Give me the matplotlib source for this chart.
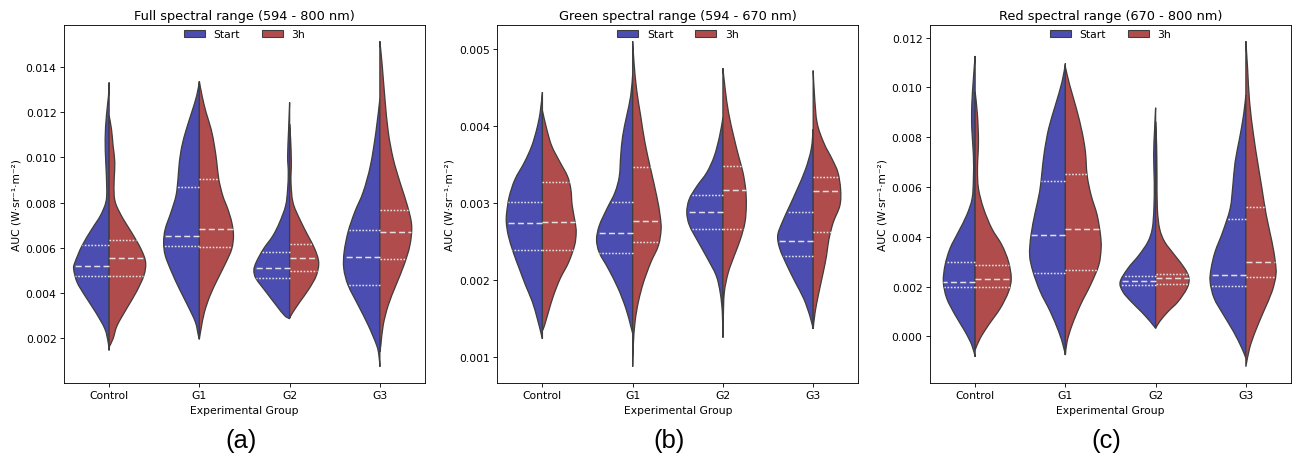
import numpy as np
import matplotlib
matplotlib.use("Agg")
import matplotlib.pyplot as plt
from matplotlib.path import Path
from matplotlib.patches import PathPatch, Patch
from matplotlib.ticker import MultipleLocator, FormatStrFormatter

# Groups and hue levels.
groups = ["Control", "G1", "G2", "G3"]
hues = ["Start", "3h"]
titles = ["Full spectral range (594 - 800 nm)",
          "Green spectral range (594 - 670 nm)",
          "Red spectral range (670 - 800 nm)"]
panel_tags = ["(a)", "(b)", "(c)"]

# Violin outlines: AUC values (y) and half widths (w, in category units).
# Full spectral range.
full_start_y = [
    [0.01331, 0.01272, 0.01184, 0.01081, 0.00978, 0.0086, 0.00801, 0.00743, 0.00684, 0.0061, 0.00537, 0.00507, 0.00449, 0.0039, 0.00316, 0.00243, 0.00184, 0.00147],
    [0.01335, 0.01272, 0.01199, 0.01125, 0.01051, 0.00978, 0.00904, 0.00831, 0.00757, 0.00684, 0.00625, 0.00566, 0.00493, 0.00419, 0.00346, 0.00272, 0.00213, 0.00196],
    [0.01243, 0.01125, 0.01007, 0.00934, 0.0086, 0.00787, 0.00713, 0.00654, 0.00596, 0.00537, 0.005, 0.00463, 0.00404, 0.00346, 0.00301, 0.00287],
    [0.01259, 0.01112, 0.00965, 0.00847, 0.00759, 0.00671, 0.00582, 0.00509, 0.00435, 0.00347, 0.00259, 0.00171, 0.00126, 0.00075],
]
full_start_w = [
    [0, 0.007, 0.03, 0.044, 0.037, 0.026, 0.037, 0.096, 0.19, 0.30, 0.378, 0.393, 0.356, 0.27, 0.15, 0.048, 0.011, 0],
    [0, 0.030, 0.085, 0.144, 0.193, 0.222, 0.237, 0.259, 0.315, 0.378, 0.396, 0.378, 0.307, 0.222, 0.130, 0.044, 0.011, 0],
    [0, 0.011, 0.022, 0.015, 0.022, 0.044, 0.111, 0.185, 0.289, 0.37, 0.396, 0.37, 0.259, 0.148, 0.056, 0],
    [0, 0.044, 0.104, 0.185, 0.278, 0.352, 0.396, 0.4, 0.352, 0.241, 0.130, 0.037, 0.011, 0],
]
full_3h_y = [
    [0.01184, 0.01125, 0.01051, 0.00978, 0.00904, 0.00831, 0.00787, 0.00728, 0.00669, 0.00596, 0.00537, 0.00478, 0.00404, 0.00331, 0.00257, 0.00199, 0.00162],
    [0.01335, 0.01272, 0.01199, 0.01125, 0.01051, 0.00978, 0.00904, 0.00831, 0.00772, 0.00713, 0.00654, 0.00596, 0.00537, 0.00463, 0.0039, 0.00316, 0.00243, 0.00199],
    [0.01147, 0.01081, 0.00978, 0.0089, 0.00801, 0.00728, 0.00654, 0.00596, 0.00537, 0.00478, 0.00419, 0.0036, 0.00316, 0.0029],
    [0.01513, 0.01406, 0.01259, 0.01112, 0.00994, 0.00891, 0.00788, 0.007, 0.00612, 0.00524, 0.00435, 0.00347, 0.00259, 0.00171, 0.00141],
]
full_3h_w = [
    [0, 0.026, 0.044, 0.063, 0.056, 0.056, 0.081, 0.156, 0.248, 0.352, 0.404, 0.385, 0.30, 0.193, 0.089, 0.044, 0],
    [0, 0.030, 0.074, 0.13, 0.167, 0.193, 0.215, 0.259, 0.315, 0.359, 0.378, 0.359, 0.296, 0.204, 0.119, 0.056, 0.019, 0],
    [0, 0.011, 0.019, 0.015, 0.037, 0.111, 0.204, 0.278, 0.322, 0.296, 0.215, 0.111, 0.037, 0],
    [0, 0.026, 0.056, 0.093, 0.148, 0.222, 0.304, 0.352, 0.333, 0.267, 0.178, 0.093, 0.037, 0.011, 0],
]
# Quartiles [Q1, median, Q3].
full_start_q = [[0.00475, 0.00522, 0.00613], [0.00609, 0.00653, 0.00871], [0.00468, 0.00513, 0.00584], [0.00438, 0.0056, 0.0068]]
full_3h_q = [[0.00474, 0.00556, 0.00635], [0.00604, 0.00684, 0.00906], [0.00496, 0.00557, 0.00618], [0.00551, 0.00669, 0.00769]]

# Green spectral range.
green_start_y = [
    [0.00444, 0.00417, 0.00396, 0.00374, 0.00353, 0.00331, 0.00309, 0.00288, 0.00275, 0.00258, 0.00236, 0.00215, 0.00193, 0.00172, 0.0015, 0.00133, 0.00124],
    [0.00467, 0.00439, 0.00413, 0.00387, 0.00361, 0.00335, 0.00314, 0.00292, 0.00271, 0.00253, 0.00236, 0.00215, 0.00189, 0.00163, 0.00141, 0.00131],
    [0.00411, 0.00387, 0.00361, 0.0034, 0.00322, 0.00305, 0.00288, 0.00271, 0.00249, 0.00228, 0.00206, 0.00184, 0.00159, 0.00126],
    [0.00396, 0.0037, 0.00344, 0.00318, 0.00297, 0.00275, 0.00258, 0.00241, 0.00219, 0.00197, 0.00176, 0.00154, 0.00137],
]
green_start_w = [
    [0, 0.026, 0.063, 0.119, 0.2, 0.304, 0.367, 0.396, 0.4, 0.378, 0.322, 0.256, 0.185, 0.111, 0.056, 0.019, 0],
    [0, 0.022, 0.067, 0.111, 0.133, 0.148, 0.196, 0.289, 0.37, 0.4, 0.37, 0.27, 0.159, 0.074, 0.022, 0],
    [0, 0.037, 0.096, 0.178, 0.289, 0.374, 0.4, 0.37, 0.27, 0.17, 0.074, 0.03, 0.007, 0],
    [0, 0.022, 0.085, 0.178, 0.259, 0.344, 0.393, 0.37, 0.289, 0.196, 0.104, 0.037, 0],
]
green_3h_y = [
    [0.0042, 0.00396, 0.00374, 0.00353, 0.00335, 0.00318, 0.00297, 0.00275, 0.00262, 0.00245, 0.00223, 0.00202, 0.0018, 0.00159, 0.00141, 0.00135],
    [0.0051, 0.00482, 0.00447, 0.00413, 0.00378, 0.00344, 0.00309, 0.00284, 0.00266, 0.00245, 0.00223, 0.00197, 0.00172, 0.00146, 0.00116, 0.00088],
    [0.00475, 0.00447, 0.00417, 0.00387, 0.00361, 0.0034, 0.00318, 0.00297, 0.00275, 0.00253, 0.00232, 0.0021, 0.00184, 0.0015, 0.00126],
    [0.00472, 0.00439, 0.00404, 0.00378, 0.00357, 0.0034, 0.00318, 0.00297, 0.00275, 0.00253, 0.00232, 0.0021, 0.00184, 0.00159, 0.00137],
]
green_3h_w = [
    [0, 0.048, 0.104, 0.196, 0.278, 0.315, 0.33, 0.363, 0.374, 0.356, 0.289, 0.196, 0.122, 0.067, 0.022, 0],
    [0, 0.015, 0.044, 0.089, 0.137, 0.2, 0.267, 0.304, 0.315, 0.285, 0.2, 0.119, 0.063, 0.026, 0.007, 0],
    [0, 0.026, 0.063, 0.119, 0.174, 0.222, 0.252, 0.259, 0.244, 0.193, 0.126, 0.059, 0.015, 0.004, 0],
    [0, 0.015, 0.044, 0.119, 0.211, 0.274, 0.304, 0.296, 0.222, 0.174, 0.148, 0.111, 0.063, 0.022, 0],
]
green_start_q = [[0.0024, 0.00275, 0.00302], [0.00236, 0.00262, 0.00302], [0.00266, 0.00288, 0.00311], [0.00231, 0.00251, 0.00288]]
green_3h_q = [[0.0024, 0.00276, 0.00327], [0.0025, 0.00277, 0.00347], [0.00266, 0.00317, 0.00348], [0.00263, 0.00316, 0.00334]]

# Red spectral range.
red_start_y = [
    [0.01126, 0.01035, 0.00928, 0.00835, 0.00728, 0.00634, 0.00554, 0.00487, 0.0042, 0.00353, 0.00286, 0.00219, 0.00153, 0.00086, 0.00019, -0.00035, -0.00082],
    [0.01096, 0.01022, 0.00928, 0.00835, 0.00741, 0.00661, 0.00581, 0.005, 0.00407, 0.00326, 0.0026, 0.00179, 0.00099, 0.00019, -0.00035, -0.00075],
    [0.00918, 0.00835, 0.00728, 0.00621, 0.00514, 0.00433, 0.0038, 0.00326, 0.00273, 0.00219, 0.00179, 0.00139, 0.00099, 0.00059, 0.00032],
    [0.00969, 0.00888, 0.00795, 0.00701, 0.00607, 0.00514, 0.0042, 0.0034, 0.00273, 0.00219, 0.00153, 0.00086, 0.00019, -0.00048, -0.00088],
]
red_start_w = [
    [0, 0.019, 0.037, 0.037, 0.019, 0.019, 0.033, 0.093, 0.185, 0.278, 0.333, 0.352, 0.315, 0.222, 0.111, 0.037, 0],
    [0, 0.037, 0.111, 0.185, 0.233, 0.259, 0.285, 0.333, 0.381, 0.396, 0.359, 0.278, 0.167, 0.074, 0.026, 0],
    [0, 0.011, 0.022, 0.015, 0.019, 0.037, 0.085, 0.185, 0.307, 0.393, 0.363, 0.27, 0.159, 0.059, 0],
    [0, 0.026, 0.07, 0.119, 0.144, 0.174, 0.256, 0.341, 0.385, 0.396, 0.352, 0.248, 0.137, 0.044, 0],
]
red_3h_y = [
    [0.00982, 0.00888, 0.00781, 0.00674, 0.00594, 0.00514, 0.00433, 0.00367, 0.003, 0.00233, 0.00179, 0.00112, 0.00045, -0.00008, -0.00055],
    [0.01082, 0.01009, 0.00915, 0.00821, 0.00741, 0.00647, 0.00567, 0.00487, 0.00407, 0.00353, 0.00286, 0.00206, 0.00126, 0.00045, -0.00021, -0.00075],
    [0.00862, 0.00768, 0.00647, 0.00514, 0.00433, 0.0038, 0.00326, 0.00273, 0.00233, 0.00193, 0.00139, 0.00099, 0.00059, 0.00032],
    [0.01185, 0.01076, 0.00942, 0.00808, 0.00701, 0.00594, 0.00487, 0.0038, 0.003, 0.00246, 0.00179, 0.00099, 0.00019, -0.00048, -0.00122],
]
red_3h_w = [
    [0, 0.026, 0.037, 0.026, 0.037, 0.093, 0.185, 0.296, 0.37, 0.4, 0.37, 0.278, 0.148, 0.056, 0],
    [0, 0.048, 0.122, 0.185, 0.222, 0.241, 0.285, 0.352, 0.389, 0.396, 0.37, 0.278, 0.167, 0.074, 0.019, 0],
    [0, 0.011, 0.015, 0.019, 0.044, 0.1, 0.211, 0.322, 0.37, 0.348, 0.248, 0.137, 0.044, 0],
    [0, 0.019, 0.041, 0.085, 0.13, 0.178, 0.226, 0.289, 0.326, 0.333, 0.289, 0.196, 0.104, 0.041, 0],
]
red_start_q = [[0.00197, 0.00219, 0.00297], [0.00253, 0.00405, 0.00625], [0.00206, 0.00222, 0.00241], [0.00203, 0.00246, 0.0047]]
red_3h_q = [[0.00199, 0.0023, 0.00286], [0.00265, 0.00432, 0.00652], [0.00211, 0.00233, 0.00251], [0.00237, 0.00297, 0.0052]]

panels = [
    (full_start_y, full_start_w, full_start_q, full_3h_y, full_3h_w, full_3h_q),
    (green_start_y, green_start_w, green_start_q, green_3h_y, green_3h_w, green_3h_q),
    (red_start_y, red_start_w, red_start_q, red_3h_y, red_3h_w, red_3h_q),
]

colors = {"Start": "#4b4db1", "3h": "#b04c4c"}
edge = "#3e3e3e"
inner = "#e2e2e2"


def half_violin(ax, center, ys, ws, side, color, quarts):
    ys = np.asarray(ys, dtype=float)
    ws = np.asarray(ws, dtype=float)
    order = np.argsort(ys)
    ys, ws = ys[order], ws[order]
    pts = np.column_stack([center + side * ws, ys])
    # Smooth outline through the read points (Catmull-Rom as cubic Bezier).
    padded = np.vstack([pts[0], pts, pts[-1]])
    verts = [pts[0]]
    codes = [Path.MOVETO]
    for i in range(1, len(padded) - 2):
        p0, p1, p2, p3 = padded[i - 1], padded[i], padded[i + 1], padded[i + 2]
        verts += [p1 + (p2 - p0) / 6, p2 - (p3 - p1) / 6, p2]
        codes += [Path.CURVE4] * 3
    verts += [pts[0], pts[0]]
    codes += [Path.LINETO, Path.CLOSEPOLY]
    ax.add_patch(PathPatch(Path(verts, codes), facecolor=color, edgecolor=edge, linewidth=1.2, zorder=2))
    # Quartile lines.
    for k, q in enumerate(quarts):
        half = np.interp(q, ys, ws)
        style = (0, (4, 2.2)) if k == 1 else (0, (1.1, 1.1))
        ax.plot([center, center + side * half], [q, q], color=inner, linestyle=style, linewidth=1.4, zorder=3)


fig = plt.figure(figsize=(1301 / 77, 466 / 77), dpi=77)
lefts = [64 / 1301, 497.3 / 1301, 930 / 1301]
tag_x = [241 / 1301, 669 / 1301, 1106 / 1301]

for p, (sy, sw, sq, ry, rw, rq) in enumerate(panels):
    ax = fig.add_axes([lefts[p], 1 - 384 / 466, 361 / 1301, 358 / 466])
    all_y = []
    for g in range(len(groups)):
        half_violin(ax, g, sy[g], sw[g], -1, colors["Start"], sq[g])
        half_violin(ax, g, ry[g], rw[g], 1, colors["3h"], rq[g])
        all_y += sy[g] + ry[g]
    lo, hi = min(all_y), max(all_y)
    pad = 0.05 * (hi - lo)
    ax.set_ylim(lo - pad, hi + pad)
    ax.set_xlim(-0.5, len(groups) - 0.5)
    ax.set_xticks(range(len(groups)))
    ax.set_xticklabels(groups)
    step = 0.001 if p == 1 else 0.002
    ax.yaxis.set_major_locator(MultipleLocator(step))
    ax.yaxis.set_major_formatter(FormatStrFormatter("%.3f"))
    ax.set_xlabel("Experimental Group")
    ax.set_ylabel("AUC (W·sr⁻¹·m⁻²)")
    ax.set_title(titles[p])
    handles = [Patch(facecolor=colors[h], edgecolor=edge, label=h) for h in hues]
    ax.legend(handles=handles, loc="upper center", bbox_to_anchor=(0.5, 1.0), ncol=2,
              frameon=False, borderaxespad=0.0)
    fig.text(tag_x[p], 1 - 441 / 466, panel_tags[p], fontsize=24, family="Liberation Sans",
             ha="center", va="center")

fig.savefig("out.png", dpi=77)
